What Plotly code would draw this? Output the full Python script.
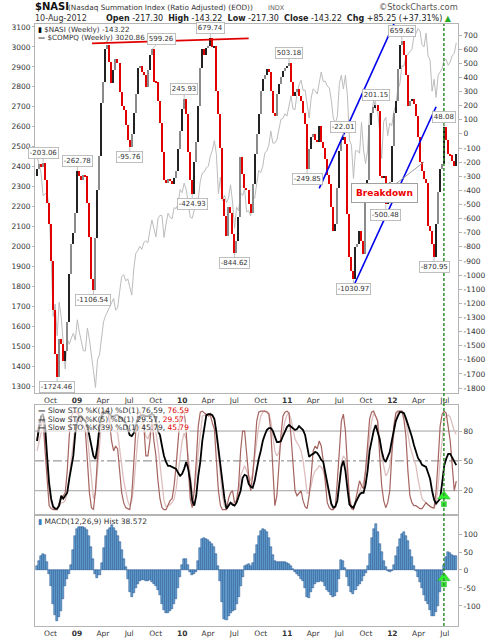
import plotly.graph_objects as go
import pandas as pd

# ---------------- data ----------------
start_week = "2008-08-15"
n_weeks = 209
weeks = pd.date_range(start_week, periods=n_weeks, freq="7D")

nasi_close = [
    -250, -215, -235, -203, -330, -490, -640, -900, -1250, -1560,
    -1724, -1450, -1490, -1610, -1540, -1330, -990, -780, -700, -560,
    -263, -300, -330, -290, -300, -490, -730, -1030, -1106, -740,
    -400, -160, 220, 370, 600, 630, 510, 360, 450, 530,
    500, 300, 200, 170, 60, -40, -96, 0, 150, 280,
    470, 480, 440, 420, 330, 450, 560, 599, 370, 365,
    235, 80, -130, -330, -350, -320, -335, -355, -310, -260,
    -107, 22, 176, 246, 140, -130, -330, -425, -202, -60,
    200, 470, 600, 560, 610, 620, 680, 613, 620, 306,
    140, -100, -460, -580, -720, -520, -560, -710, -845, -755,
    -590, -166, -285, -380, -400, -500, -560, -355, -143, 0,
    140, 306, 388, 420, 460, 440, 306, 150, 130, 282,
    353, 400, 447, 470, 480, 503, 365, 270, 300, 320,
    270, 235, 150, 70, -250, -110, -20, 0, -40, -60,
    57, -60, -100, -180, -290, -355, -520, -690, -640, -380,
    -120, -40, -22, -70, -570, -875, -970, -1031, -800, -780,
    -690, -760, -850, -380, -330, 60, 150, 190, 201, 160,
    -300, -310, -300, -500, -420, -340, -85, 150, 230, 460,
    630, 660, 555, 420, 200, 230, 250, 210, 125, -20,
    -200, -265, -320, -350, -650, -690, -780, -871, -640, -410,
    -250, -213, 48, -40, -140, -150, -190, -228, -143.22,
]
nasi_first_open = -300

compq_close = [
    2452, 2414, 2368, 2255, 2261, 2273, 2183, 1947, 1649, 1711,
    1552, 1720, 1647, 1516, 1385, 1536, 1509, 1540, 1564, 1530,
    1632, 1571, 1529, 1477, 1476, 1591, 1534, 1441, 1377, 1293,
    1431, 1457, 1545, 1622, 1652, 1673, 1694, 1719, 1739, 1680,
    1692, 1774, 1849, 1858, 1827, 1838, 1797, 1756, 1886, 1965,
    1979, 2000, 1985, 2020, 2028, 2018, 2080, 2132, 2090, 2048,
    2139, 2156, 2154, 2045, 2112, 2167, 2147, 2138, 2194, 2190,
    2212, 2285, 2269, 2317, 2287, 2205, 2147, 2141, 2183, 2243,
    2238, 2327, 2368, 2374, 2395, 2402, 2454, 2481, 2530, 2461,
    2265, 2347, 2229, 2257, 2219, 2243, 2309, 2223, 2091, 2196,
    2179, 2269, 2255, 2289, 2173, 2180, 2153, 2234, 2242, 2315,
    2381, 2370, 2402, 2468, 2479, 2507, 2578, 2518, 2518, 2535,
    2591, 2637, 2642, 2665, 2653, 2703, 2755, 2689, 2686, 2769,
    2810, 2833, 2782, 2784, 2715, 2643, 2743, 2790, 2780, 2764,
    2820, 2874, 2827, 2828, 2803, 2796, 2733, 2643, 2616, 2652,
    2816, 2859, 2789, 2858, 2756, 2532, 2507, 2341, 2479, 2480,
    2467, 2622, 2483, 2415, 2479, 2667, 2637, 2738, 2686, 2678,
    2572, 2441, 2626, 2647, 2555, 2618, 2605, 2674, 2710, 2786,
    2816, 2905, 2903, 2951, 2963, 2977, 2988, 3055, 3067, 3092,
    3080, 3011, 3000, 3069, 2957, 2933, 2778, 2838, 2747, 2858,
    2872, 2892, 2935, 2937, 2908, 2925, 2958, 2967, 3020.86,
]

sto_k5 = [
    70, 90, 85, 92, 60, 30, 5, 2, 1, 1,
    1, 8, 12, 15, 18, 40, 75, 95, 99, 99,
    99, 95, 88, 85, 80, 50, 18, 3, 1, 20,
    55, 85, 99, 100, 100, 100, 88, 70, 60, 65,
    62, 40, 18, 8, 3, 2, 1, 15, 45, 80,
    98, 99, 95, 85, 55, 55, 70, 92, 70, 55,
    30, 12, 3, 1, 1, 5, 10, 12, 25, 45,
    75, 95, 99, 99, 80, 45, 12, 3, 20, 50,
    85, 99, 100, 98, 97, 95, 96, 88, 82, 50,
    20, 5, 1, 1, 1, 12, 18, 20, 8, 10,
    25, 60, 80, 80, 55, 35, 20, 35, 60, 90,
    99, 100, 100, 100, 99, 97, 80, 40, 5, 15,
    50, 75, 95, 99, 100, 98, 75, 45, 20, 15,
    18, 20, 10, 4, 2, 15, 35, 60, 65, 62,
    70, 65, 50, 25, 8, 3, 1, 1, 4, 30,
    65, 90, 97, 80, 45, 12, 2, 1, 10, 20,
    30, 25, 22, 40, 70, 92, 99, 100, 95, 90,
    55, 25, 10, 3, 8, 20, 55, 85, 98, 100,
    100, 100, 92, 75, 40, 15, 8, 5, 5, 3,
    2, 2, 5, 8, 6, 4, 3, 3, 20, 50,
    85, 97, 100, 98, 85, 70, 45, 20, 29.57,
]

sto_k14 = [
    60, 70, 78, 82, 70, 45, 20, 8, 3, 1,
    1, 5, 8, 8, 10, 18, 35, 55, 70, 85,
    98, 98, 95, 93, 90, 75, 55, 30, 12, 18,
    40, 65, 88, 97, 100, 100, 95, 85, 80, 80,
    78, 62, 45, 30, 20, 10, 5, 10, 25, 50,
    72, 85, 88, 85, 75, 72, 78, 90, 85, 78,
    65, 45, 25, 10, 4, 5, 6, 8, 12, 22,
    38, 55, 70, 78, 72, 55, 35, 18, 20, 35,
    58, 80, 95, 96, 96, 97, 98, 95, 92, 75,
    55, 35, 15, 5, 2, 5, 8, 8, 6, 8,
    15, 35, 40, 45, 40, 35, 30, 38, 55, 72,
    85, 95, 99, 100, 100, 98, 90, 75, 60, 55,
    58, 68, 80, 90, 96, 98, 92, 80, 72, 68,
    65, 60, 50, 35, 18, 18, 25, 35, 40, 42,
    45, 44, 40, 32, 22, 12, 5, 2, 3, 12,
    30, 48, 55, 52, 35, 15, 5, 2, 6, 12,
    20, 25, 28, 40, 55, 75, 90, 97, 95, 90,
    72, 55, 45, 35, 38, 45, 60, 78, 92, 98,
    100, 100, 98, 90, 75, 65, 58, 52, 45, 32,
    20, 12, 10, 8, 5, 4, 3, 2, 8, 25,
    50, 72, 92, 95, 96, 94, 88, 80, 76.59,
]

sto_k39 = [
    70, 85, 95, 97, 85, 55, 28, 12, 4, 2,
    2, 5, 15, 12, 15, 18, 32, 45, 55, 78,
    90, 95, 95, 92, 90, 85, 75, 62, 55, 52,
    65, 85, 95, 98, 98, 99, 97, 95, 95, 96,
    96, 94, 92, 90, 88, 82, 76, 75, 78, 86,
    92, 95, 96, 96, 95, 95, 96, 97, 96, 90,
    80, 76, 65, 55, 49, 45, 45, 44, 43, 42,
    38, 35, 37, 42, 49, 42, 30, 10, 5, 15,
    35, 49, 70, 85, 96, 97, 97, 96, 92, 79,
    62, 48, 28, 12, 2, 5, 8, 6, 5, 8,
    15, 20, 33, 36, 35, 27, 24, 23, 30, 42,
    52, 60, 70, 76, 81, 83, 83, 80, 75, 69,
    69, 70, 75, 80, 84, 86, 84, 82, 81, 82,
    85, 83, 81, 76, 64, 54, 56, 57, 59, 58,
    55, 51, 49, 38, 25, 14, 7, 3, 4, 10,
    28, 44, 50, 40, 22, 6, 4, 3, 8, 12,
    16, 18, 18, 26, 40, 60, 72, 80, 86, 80,
    72, 60, 52, 49, 54, 59, 70, 80, 90, 95,
    99, 99, 98, 93, 87, 82, 74, 66, 58, 53,
    50, 46, 45, 44, 38, 32, 20, 11, 7, 9,
    12, 28, 45, 52, 57, 57, 53, 50, 45.79,
]

macd_hist = [
    10, 25, 38, 45, 42, 22, -10, -45, -95, -125,
    -143, -130, -115, -80, -45, -25, -10, 15, 55, 95,
    115, 120, 120, 120, 118, 112, 95, 65, 30, -10,
    -22, -15, 20, 60, 95, 110, 118, 125, 118, 108,
    95, 78, 55, 30, 8, -25, -60, -74, -65, -50,
    -38, -30, -27, -28, -30, -30, -28, -33, -40, -45,
    -55, -70, -95, -112, -120, -120, -115, -108, -95, -80,
    -50, -20, 15, 30, 30, 15, -5, -15, -12, -5,
    25, 60, 85, 88, 85, 82, 78, 72, 65, 45,
    10, -30, -90, -135, -140, -128, -120, -115, -110, -95,
    -75, -45, -20, 10, 15, 18, 12, 20, 45, 70,
    95, 108, 114, 112, 105, 90, 65, 42, 25, 22,
    22, 21, 22, 22, 20, 18, 10, 2, -5, -12,
    -18, -25, -30, -50, -75, -78, -60, -50, -40, -33,
    -32, -30, -33, -45, -55, -60, -70, -75, -72, -60,
    -25, 28, 25, 5, -20, -45, -62, -68, -55, -45,
    -38, -30, -18, -8, 10, 45, 90, 115, 128, 105,
    72, 50, 25, 8, -4, -5, -2, 15, 40, 65,
    85, 100, 105, 95, 80, 55, 35, 10, -3, -20,
    -32, -50, -70, -85, -95, -112, -128, -128, -118, -100,
    -60, -15, 15, 35, 50, 48, 42, 38, 38.572,
]

# swing labels on the NASI candles
label_weeks = [3, 10, 20, 28, 46, 57, 73, 77, 86, 98, 125, 134, 152, 157, 168, 173, 181, 197, 202]
label_texts = ["-203.06", "-1724.46", "-262.78", "-1106.54", "-95.76", "599.26", "245.93",
               "-424.93", "679.74", "-844.62", "503.18", "-249.85", "-22.01", "-1030.97",
               "201.15", "-500.48", "659.62", "-870.95", "48.08"]
label_sides = ["up", "down", "up", "down", "down", "up", "up", "down", "up", "down",
               "up", "down", "up", "down", "up", "down", "up", "down", "up"]
label_dx = [0, 0, 0, 0, 0, 10, 0, 0, 0, 0, 0, 0, 0, 0, 0, 0, 0, 0, 0]

# hand-drawn trendlines (date, NASI level)
red_line = [("2009-02-22", 641), ("2010-08-20", 676)]
blue_upper = [("2011-04-22", -386), ("2012-01-20", 840)]
blue_lower = [("2011-08-24", -1058), ("2012-06-01", 192)]
breakdown_point = ("2012-04-20", -199)
signal_date = "2012-06-28"

# ---------------- styling ----------------
DAY = 86400000
FONT = "DejaVu Sans"
tick_font = dict(family=FONT, size=7.5, color="#333333")
frame = "#b4b4b4"
x_range = ["2008-08-08", "2012-08-16"]

tick_dates, tick_text = [], []
for yr in range(2008, 2013):
    for m, name in [(1, None), (4, "Apr"), (7, "Jul"), (10, "Oct")]:
        d = pd.Timestamp(yr, m, 1)
        if d < pd.Timestamp(x_range[0]) or d > pd.Timestamp(x_range[1]):
            continue
        tick_dates.append(d)
        tick_text.append("<b>%02d</b>" % (yr % 100) if m == 1 else name)

fig = go.Figure()

# COMPQ line (left axis)
fig.add_trace(go.Scatter(x=weeks, y=compq_close, mode="lines",
                         line=dict(color="#bcbcbc", width=1), xaxis="x", yaxis="y",
                         hoverinfo="skip"))

# NASI candles (right axis)
opens = [nasi_first_open] + nasi_close[:-1]
bases = [min(o, c) for o, c in zip(opens, nasi_close)]
heights = [max(abs(c - o), 10) for o, c in zip(opens, nasi_close)]
up_cols = ["#222222", "#8a8a8a"]
colors = []
for k, (o, c) in enumerate(zip(opens, nasi_close)):
    colors.append("#e00000" if c < o else up_cols[k % 2])
fig.add_trace(go.Bar(x=weeks, y=heights, base=bases, width=4.6 * DAY,
                     marker=dict(color=colors, line=dict(width=0)),
                     xaxis="x", yaxis="y2", hoverinfo="skip"))

# Stochastics
fig.add_trace(go.Scatter(x=weeks, y=sto_k14, mode="lines",
                         line=dict(color="rgb(222,190,190)", width=1.3),
                         xaxis="x2", yaxis="y3", hoverinfo="skip"))
fig.add_trace(go.Scatter(x=weeks, y=sto_k5, mode="lines",
                         line=dict(color="rgb(165,100,95)", width=1.2),
                         xaxis="x2", yaxis="y3", hoverinfo="skip"))
fig.add_trace(go.Scatter(x=weeks, y=sto_k39, mode="lines",
                         line=dict(color="#000000", width=1.8),
                         xaxis="x2", yaxis="y3", hoverinfo="skip"))

# MACD histogram
fig.add_trace(go.Bar(x=weeks, y=macd_hist, width=7 * DAY,
                     marker=dict(color="rgb(100,160,208)", line=dict(color="rgb(30,75,135)", width=0.5)),
                     xaxis="x3", yaxis="y4", hoverinfo="skip"))

# green signal arrows
for ax_y, head, stem in [("y3", 14.5, 6.5), ("y4", -22, -40)]:
    xa = "x2" if ax_y == "y3" else "x3"
    fig.add_trace(go.Scatter(x=[signal_date], y=[stem], mode="markers", xaxis=xa, yaxis=ax_y,
                             marker=dict(symbol="square", size=5, color="#33ee33",
                                         line=dict(color="#22aa22", width=0.5)), hoverinfo="skip"))
    fig.add_trace(go.Scatter(x=[signal_date], y=[head], mode="markers", xaxis=xa, yaxis=ax_y,
                             marker=dict(symbol="triangle-up", size=11, color="#33ee33",
                                         line=dict(color="#22aa22", width=0.5)), hoverinfo="skip"))

shapes = []
for pts, col in [(red_line, "#e00000"), (blue_upper, "#0000ee"), (blue_lower, "#0000ee")]:
    (x0, y0), (x1, y1) = pts
    shapes.append(dict(type="line", xref="x", yref="y2", x0=x0, y0=y0, x1=x1, y1=y1,
                       line=dict(color=col, width=1.6)))
for lvl, dash, col in [(80, "solid", "#a0a0a0"), (20, "solid", "#a0a0a0"), (50, "dashdot", "#808080")]:
    shapes.append(dict(type="line", xref="paper", yref="y3", x0=0, x1=1, y0=lvl, y1=lvl,
                       line=dict(color=col, width=1, dash=dash), layer="below"))
shapes.append(dict(type="line", xref="x", yref="paper", x0=signal_date, x1=signal_date, y0=0, y1=1,
                   line=dict(color="#2f8f2f", width=1.5, dash="3px,2px")))

annotations = []
for wi, txt_, side, dx in zip(label_weeks, label_texts, label_sides, label_dx):
    annotations.append(dict(x=weeks[wi], y=float(txt_), xref="x", yref="y2", text=txt_,
                            showarrow=True, arrowhead=0, arrowwidth=0.8, arrowcolor="#b0b0b0",
                            ax=dx, ay=-10 if side == "up" else 10,
                            font=dict(family=FONT, size=7, color="#333333"),
                            bgcolor="white", bordercolor="#b0b0b0", borderwidth=0.8, borderpad=1))

annotations.append(dict(x=breakdown_point[0], y=breakdown_point[1], xref="x", yref="y2",
                        text="<b>Breakdown</b>", showarrow=True, arrowhead=0, arrowwidth=1,
                        arrowcolor="#a0a0a0", ax=-40, ay=31,
                        font=dict(family=FONT, size=9, color="#ee0000"),
                        bgcolor="white", bordercolor="#a0a0a0", borderwidth=1, borderpad=4))

def px_x(px):
    return (px - 35) / 423.0

def px_y(py):
    return (626 - py) / 602.0

def txt(x, y, s, size=7.5, color="#222222", xanchor="left", bg=None):
    d = dict(x=px_x(x), y=px_y(y), xref="paper", yref="paper", text=s, showarrow=False,
             xanchor=xanchor, yanchor="middle", font=dict(family=FONT, size=size, color=color),
             borderpad=0)
    if bg:
        d["bgcolor"] = bg
    annotations.append(d)

# header
txt(34, 7, "<b>$NASI</b>", size=10, color="#111111")
txt(67, 7.5, "(Nasdaq Summation Index (Ratio Adjusted) (EOD))", size=7.3, color="#333333")
txt(267, 7.5, "INDX", size=6.5, color="#666666")
txt(459, 7, "©StockCharts.com", size=8.3, color="#555555", xanchor="right")
txt(34, 19, "10-Aug-2012", size=8, color="#333333")
txt(453, 19, "<b>Open</b> -217.30 &nbsp;<b>High</b> -143.22 &nbsp;<b>Low</b> -217.30 &nbsp;"
             "<b>Close</b> -143.22 &nbsp;<b>Chg</b> +85.25 (+37.31%) "
             "<span style='color:#22aa22'>▲</span>", size=8, color="#222222", xanchor="right")

# main legend
txt(37, 29, "<span style='color:#000'>▮</span> $NASI (Weekly) -143.22", size=7.2, color="#333333")
txt(37, 37.5, "<b>—</b> $COMPQ (Weekly) 3020.86", size=7.2, color="#333333")

# STO legend
for yy, per, val in [(411, 14, "76.59"), (419, 5, "29.57"), (427, 39, "45.79")]:
    txt(37, yy, "<b>—</b> Slow STO %%K(%d) %%D(1) %s, <span style='color:#e00000'>%s</span>" % (per, val, val),
        size=7.5, color="#333333", bg="rgba(255,255,255,0.6)")

# MACD legend
txt(37, 521, "<span style='color:#3a7cc0'>▮</span> MACD(12,26,9) Hist 38.572", size=7.5, color="#333333")

nasi_ticks = list(range(-1800, 701, 100))
macd_ticks = [-100, -50, 0, 50, 100]

fig.update_layout(
    template="none",
    width=496, height=640,
    margin=dict(l=35, r=38, t=24, b=14, pad=0),
    paper_bgcolor="white", plot_bgcolor="white",
    showlegend=False, barmode="overlay", bargap=0,
    font=dict(family=FONT, size=7.5, color="#333333"),
    xaxis=dict(domain=[0, 1], anchor="y", type="date", range=x_range,
               tickvals=tick_dates, ticktext=tick_text, tickfont=tick_font,
               showline=True, mirror=True, linecolor=frame, linewidth=1,
               showgrid=False, zeroline=False, ticks="", automargin=False),
    yaxis=dict(domain=[0.387, 1], range=[1265, 3115], side="left",
               tickvals=list(range(1300, 3101, 100)), tickfont=tick_font,
               showline=True, mirror=True, linecolor=frame, linewidth=1,
               showgrid=False, zeroline=False, ticks="outside", ticklen=2, tickcolor=frame,
               automargin=False),
    yaxis2=dict(overlaying="y", side="right", range=[-1835, 778],
                tickvals=nasi_ticks, ticktext=[str(v) for v in nasi_ticks], tickfont=tick_font,
                showgrid=False, zeroline=False, showline=False,
                ticks="outside", ticklen=3, tickcolor=frame, automargin=False),
    xaxis2=dict(domain=[0, 1], anchor="y3", type="date", range=x_range, matches="x",
                showticklabels=False, showline=True, mirror=True, linecolor=frame, linewidth=1,
                showgrid=False, zeroline=False, ticks="", automargin=False),
    yaxis3=dict(domain=[0.186, 0.367], range=[-3.4, 106.1], side="right",
                tickvals=[20, 50, 80], tickfont=tick_font,
                showline=True, mirror=True, linecolor=frame, linewidth=1,
                showgrid=False, zeroline=False, ticks="outside", ticklen=3, tickcolor=frame,
                automargin=False),
    xaxis3=dict(domain=[0, 1], anchor="y4", type="date", range=x_range, matches="x",
                tickvals=tick_dates, ticktext=tick_text, tickfont=tick_font,
                showline=True, mirror=True, linecolor=frame, linewidth=1,
                showgrid=False, zeroline=False, ticks="", automargin=False),
    yaxis4=dict(domain=[0, 0.1827], range=[-155.6, 150], side="right",
                tickvals=macd_ticks, ticktext=[str(v) for v in macd_ticks], tickfont=tick_font,
                showline=True, mirror=True, linecolor=frame, linewidth=1,
                showgrid=False, zeroline=False, ticks="outside", ticklen=3, tickcolor=frame,
                automargin=False),
    shapes=shapes,
    annotations=annotations,
)

fig.write_html("out.html", config={"displayModeBar": False},
               post_script="document.body.style.margin='0';document.body.style.padding='0';")
